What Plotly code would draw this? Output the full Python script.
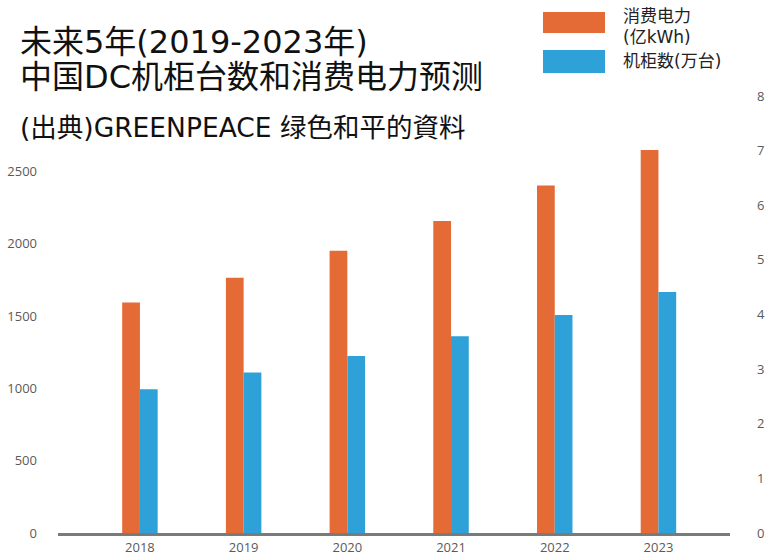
import plotly.graph_objects as go

# data
years = ["2018", "2019", "2020", "2021", "2022", "2023"]
power_100m_kwh = [1595, 1765, 1952, 2158, 2404, 2649]   # 消费电力 (亿kWh), left axis
racks = [2.63, 2.94, 3.24, 3.60, 3.99, 4.41]             # 机柜数, right axis

left_ticks = [0, 500, 1000, 1500, 2000, 2500]
right_ticks = [0, 1, 2, 3, 4, 5, 6, 7, 8]

ORANGE = "#e46a36"
BLUE = "#2ea1d9"
TEXT_FONT = "DejaVu Sans, Noto Sans CJK JP"
TICK_FONT = dict(family="Open Sans", size=13, color="#5a5a5a")

fig = go.Figure()
fig.add_trace(go.Bar(
    x=years, y=power_100m_kwh, name="消费电力(亿kWh)",
    width=0.171, offset=-0.171, marker=dict(color=ORANGE, line=dict(width=0)),
    yaxis="y"))
fig.add_trace(go.Bar(
    x=years, y=racks, name="机柜数(万台)",
    width=0.171, offset=0, marker=dict(color=BLUE, line=dict(width=0)),
    yaxis="y2"))

# hand-made legend with the wide swatches of the original
fig.add_shape(type="rect", xref="paper", yref="paper",
              x0=(543 - 58) / 672, x1=(605 - 58) / 672,
              y0=(533 - 33) / 443, y1=(533 - 12) / 443,
              fillcolor=ORANGE, line_width=0, layer="above")
fig.add_shape(type="rect", xref="paper", yref="paper",
              x0=(543 - 58) / 672, x1=(605 - 58) / 672,
              y0=(533 - 73) / 443, y1=(533 - 50) / 443,
              fillcolor=BLUE, line_width=0, layer="above")

def top_text(text, x_px, y_px, size, color="#111"):
    fig.add_annotation(text=text, xref="paper", yref="paper",
                       x=(x_px - 58) / 672, y=(533 - y_px) / 443,
                       xanchor="left", yanchor="middle", showarrow=False,
                       font=dict(family=TEXT_FONT, size=size, color=color))

top_text("消费电力", 621, 16, 17, "#222")
top_text("(亿kWh)", 621, 37, 17, "#222")
top_text("机柜数(万台)", 621, 61, 17, "#222")

top_text("未来5年(2019-2023年)", 18, 42, 32)
top_text("中国DC机柜台数和消费电力预测", 18, 77, 32)
top_text("(出典)GREENPEACE 绿色和平的資料", 18, 128, 26.5)

fig.update_layout(
    width=766, height=557,
    margin=dict(l=58, r=36, t=90, b=24),
    paper_bgcolor="white", plot_bgcolor="white",
    showlegend=False, barmode="overlay",
    xaxis=dict(range=[-0.79, 5.69], showline=True, linewidth=3,
               linecolor="#7a7a7a", showgrid=False, ticks="",
               automargin=False,
               tickfont=dict(family="Open Sans", size=13, color="#5a5a5a")),
    yaxis=dict(range=[0, 3064], tickvals=left_ticks, showgrid=False,
               zeroline=False, showline=False, ticks="", automargin=False,
               ticklabelstandoff=20, tickfont=TICK_FONT),
    yaxis2=dict(range=[0, 8.11], tickvals=right_ticks, overlaying="y",
                side="right", showgrid=False, zeroline=False,
                showline=False, ticks="", automargin=False,
                ticklabelstandoff=26, tickfont=TICK_FONT),
)

# drop the page's default body margin so the figure sits at the window corner
fig.write_html("out.html", config={"displayModeBar": False},
               post_script="document.body.style.margin = '0';")
